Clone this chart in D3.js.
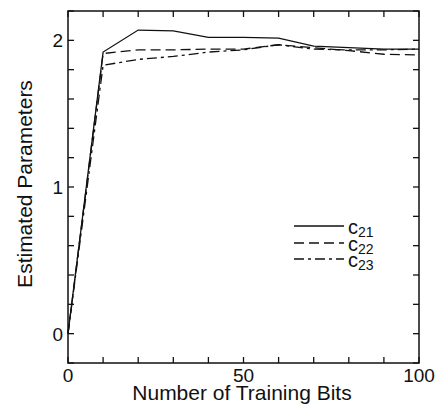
<!DOCTYPE html>
<html>
<head>
	<style>
		body { margin: 0; background: #fff; }
		text { font-family: "Liberation Sans", Arial, sans-serif; fill: #111; }
		.line { fill: none; stroke: #111; stroke-width: 1.3; }
	</style>
</head>
<body>
	<svg id="container" width="442" height="408"></svg>
<script src="https://d3js.org/d3.v7.min.js"></script>
<script>
	// training bits on x axis
	const bits = [0, 10, 20, 30, 40, 50, 60, 70, 80, 90, 100]
	const c21 = [0, 1.92, 2.07, 2.065, 2.02, 2.02, 2.015, 1.96, 1.95, 1.94, 1.94]
	const c22 = [0, 1.91, 1.935, 1.935, 1.94, 1.94, 1.97, 1.95, 1.93, 1.905, 1.90]
	const c23 = [0, 1.83, 1.87, 1.89, 1.92, 1.935, 1.97, 1.94, 1.935, 1.935, 1.94]
	const xTickLabels = [0, 50, 100]
	const yTickLabels = [0, 1, 2]

	const series = [
		{ name: "21", values: c21, dash: null },
		{ name: "22", values: c22, dash: "10,5" },
		{ name: "23", values: c23, dash: "10,4,3,4" }
	]

	let svg = d3.select("#container")
	let plotL = 68, plotR = 419, plotT = 11, plotB = 363

	let x = d3.scaleLinear().domain([0, 100]).range([plotL, plotR])
	let y = d3.scaleLinear().domain([-0.2, 2.2]).range([plotB, plotT])

	// frame
	svg.append("rect")
		.attr("x", plotL).attr("y", plotT)
		.attr("width", plotR - plotL).attr("height", plotB - plotT)
		.attr("fill", "none").attr("stroke", "#111").attr("stroke-width", 1.5)

	// inward ticks on all sides
	let xt = d3.range(0, 101, 10)
	let yt = d3.range(-0.2, 2.21, 0.2).map(v => +v.toFixed(1))
	let tl = 6
	let ticks = svg.append("g").attr("stroke", "#111").attr("stroke-width", 1.3)
	xt.forEach(v => {
		ticks.append("line").attr("x1", x(v)).attr("x2", x(v)).attr("y1", plotB).attr("y2", plotB - tl)
		ticks.append("line").attr("x1", x(v)).attr("x2", x(v)).attr("y1", plotT).attr("y2", plotT + tl)
	})
	yt.forEach(v => {
		ticks.append("line").attr("y1", y(v)).attr("y2", y(v)).attr("x1", plotL).attr("x2", plotL + tl)
		ticks.append("line").attr("y1", y(v)).attr("y2", y(v)).attr("x1", plotR).attr("x2", plotR - tl)
	})

	svg.selectAll(".xlab").data(xTickLabels).enter().append("text")
		.attr("x", d => x(d)).attr("y", 382)
		.attr("text-anchor", "middle").attr("font-size", 19)
		.text(d => d)
	svg.selectAll(".ylab").data(yTickLabels).enter().append("text")
		.attr("x", plotL - 5).attr("y", d => y(d) + 7)
		.attr("text-anchor", "end").attr("font-size", 19)
		.text(d => d)

	svg.append("text")
		.attr("x", 242).attr("y", 400)
		.attr("text-anchor", "middle").attr("font-size", 21)
		.text("Number of Training Bits")
	svg.append("text")
		.attr("transform", "translate(32,184) rotate(-90)")
		.attr("text-anchor", "middle").attr("font-size", 21)
		.text("Estimated Parameters")

	let line = d3.line()
		.x((d, i) => x(bits[i]))
		.y(d => y(d))

	series.forEach(s => {
		svg.append("path")
			.attr("class", "line")
			.attr("d", line(s.values))
			.attr("stroke-dasharray", s.dash)
	})

	// legend
	let ly = [226, 243, 259]
	series.forEach((s, i) => {
		svg.append("line")
			.attr("class", "line")
			.attr("x1", 294).attr("x2", 344)
			.attr("y1", ly[i]).attr("y2", ly[i])
			.attr("stroke-dasharray", s.dash)
		let t = svg.append("text")
			.attr("x", 348).attr("y", ly[i] + 8)
			.attr("font-size", 20)
		t.append("tspan").text("c")
		t.append("tspan").attr("font-size", 14).attr("dy", 3).text(s.name)
	})
</script>
</body>
</html>
